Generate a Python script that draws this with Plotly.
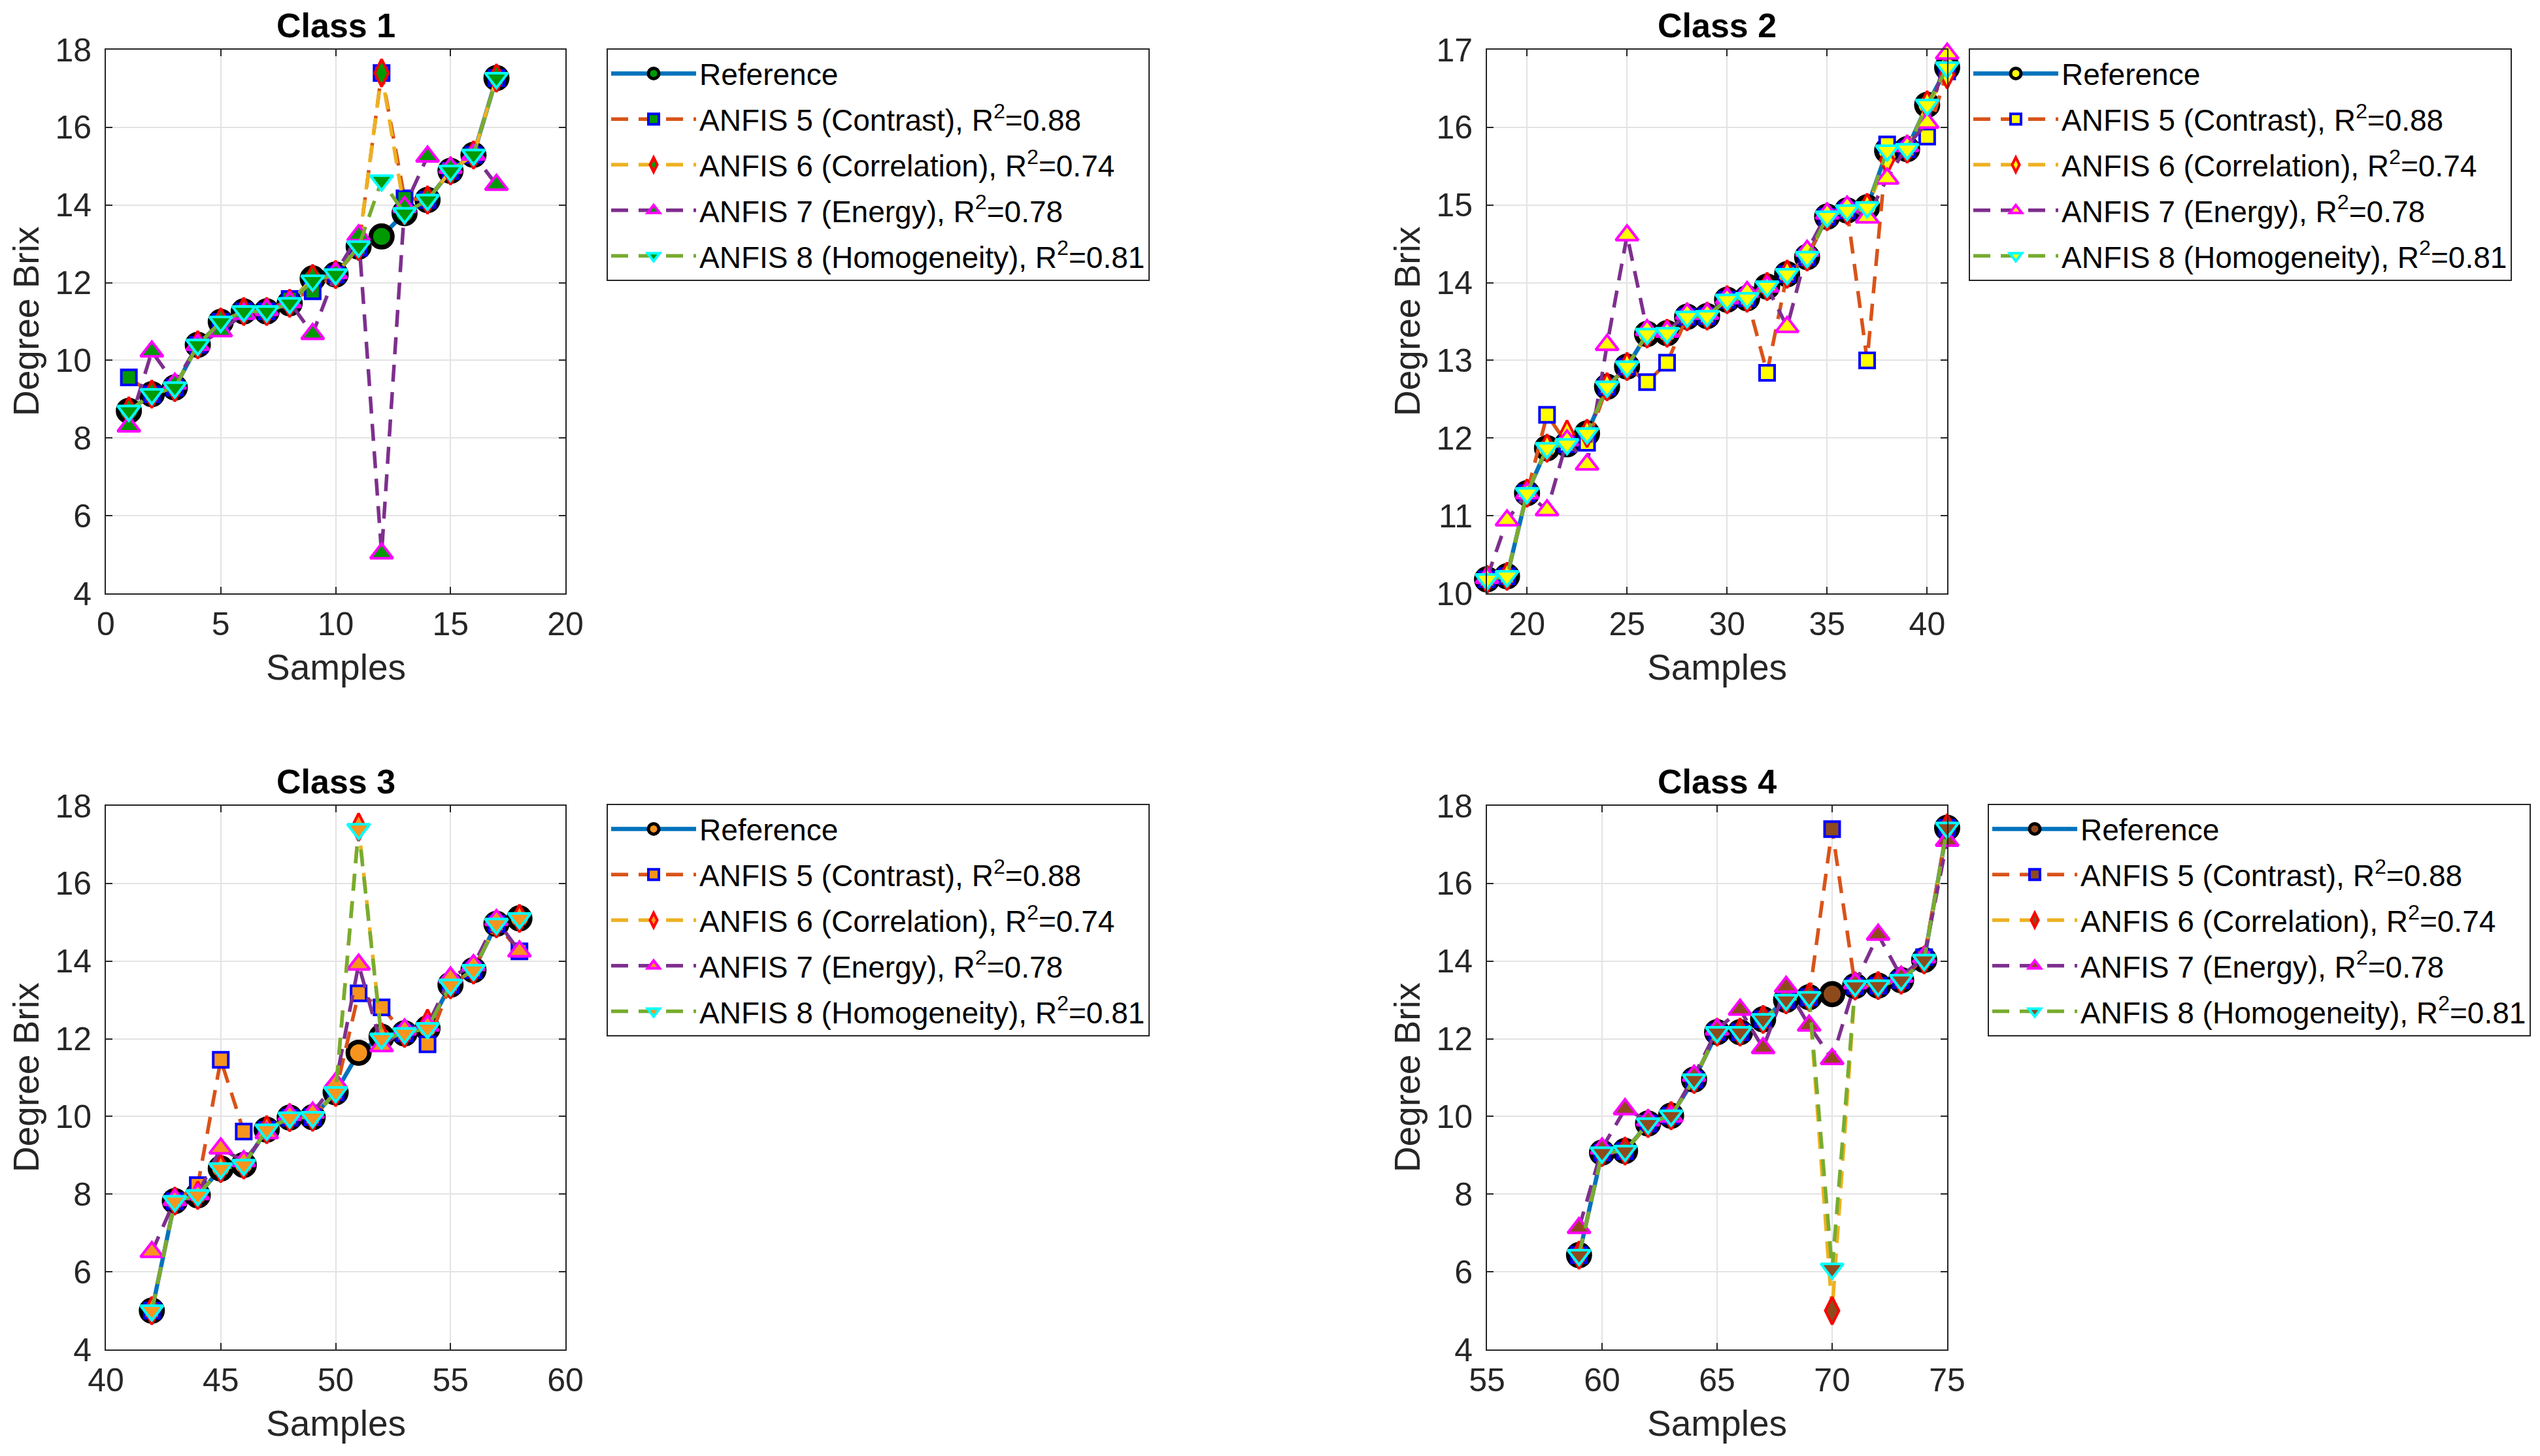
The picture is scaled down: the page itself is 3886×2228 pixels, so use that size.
import plotly.graph_objects as go
from plotly.subplots import make_subplots

W, H = 3886, 2228
FONT = "Liberation Sans, Arial, sans-serif"

# ---- data (Degree Brix per sample) ----
x1 = list(range(1, 18))
ref1 = [8.70, 9.13, 9.30, 10.40, 10.99, 11.26, 11.26, 11.47, 12.11, 12.21, 12.93, 13.19, 13.79, 14.13, 14.88, 15.29, 17.27]
a5_1 = [9.56, 9.13, 9.30, 10.40, 10.99, 11.26, 11.26, 11.58, 11.78, 12.21, 12.90, 17.40, 14.17, 14.13, 14.88, 15.29, 17.27]
a6_1 = [8.70, 9.13, 9.30, 10.40, 10.99, 11.26, 11.26, 11.47, 12.11, 12.21, 12.93, 17.40, 13.85, 14.13, 14.88, 15.29, 17.27]
a7_1 = [8.30, 10.23, 9.40, 10.40, 10.75, 11.20, 11.30, 11.50, 10.68, 12.25, 13.22, 5.03, 13.95, 15.25, 14.96, 15.30, 14.52]
a8_1 = [8.70, 9.13, 9.30, 10.40, 10.99, 11.26, 11.26, 11.47, 12.05, 12.21, 12.93, 14.63, 13.79, 14.13, 14.88, 15.29, 17.27]

x2 = list(range(18, 42))
ref2 = [10.18, 10.22, 11.29, 11.87, 11.92, 12.06, 12.66, 12.92, 13.34, 13.35, 13.56, 13.57,
        13.78, 13.80, 13.95, 14.11, 14.33, 14.85, 14.93, 14.97, 15.70, 15.72, 16.29, 16.77]
a5_2 = [10.18, 10.22, 11.29, 12.30, 11.92, 11.94, 12.66, 12.92, 12.72, 12.97, 13.56, 13.57,
        13.78, 13.80, 12.84, 14.11, 14.33, 14.85, 14.93, 13.00, 15.78, 15.72, 15.88, 16.72]
a6_2 = [10.18, 10.22, 11.29, 11.87, 12.05, 12.06, 12.66, 12.92, 13.34, 13.35, 13.56, 13.57,
        13.78, 13.80, 13.95, 14.11, 14.33, 14.85, 14.93, 14.97, 15.58, 15.72, 16.29, 16.68]
a7_2 = [10.20, 10.94, 11.29, 11.07, 11.97, 11.66, 13.20, 14.61, 13.39, 13.37, 13.60, 13.60,
        13.80, 13.88, 13.95, 13.43, 14.41, 14.89, 14.98, 14.84, 15.34, 15.76, 16.06, 16.95]
a8_2 = [10.18, 10.22, 11.29, 11.87, 11.92, 12.06, 12.66, 12.92, 13.34, 13.35, 13.56, 13.57,
        13.78, 13.80, 13.95, 14.11, 14.33, 14.85, 14.93, 14.97, 15.70, 15.72, 16.29, 16.77]

x3 = list(range(42, 59))
ref3 = [5.00, 7.82, 7.97, 8.66, 8.75, 9.66, 9.97, 9.98, 10.62, 11.64, 12.05, 12.14, 12.27, 13.39, 13.77, 14.96, 15.10]
a5_3 = [5.00, 7.82, 8.23, 11.46, 9.61, 9.66, 9.97, 9.98, 10.62, 13.17, 12.81, 12.14, 11.86, 13.39, 13.77, 14.96, 14.25]
a6_3 = [5.00, 7.82, 7.97, 8.66, 8.75, 9.66, 9.97, 9.98, 10.62, 17.45, 12.05, 12.14, 12.40, 13.39, 13.77, 14.96, 15.10]
a7_3 = [6.51, 7.85, 8.00, 9.18, 8.85, 9.57, 10.04, 10.10, 10.86, 13.91, 11.81, 12.24, 12.34, 13.58, 13.90, 15.06, 14.25]
a8_3 = [5.00, 7.82, 7.97, 8.66, 8.75, 9.66, 9.97, 9.98, 10.62, 17.40, 12.00, 12.14, 12.27, 13.39, 13.77, 14.96, 15.10]

x4 = list(range(59, 76))
ref4 = [6.43, 9.07, 9.11, 9.82, 10.02, 10.95, 12.17, 12.17, 12.50, 13.00, 13.07, 13.15, 13.36, 13.37, 13.51, 14.03, 17.43]
a5_4 = [6.43, 9.07, 9.11, 9.82, 10.02, 10.95, 12.17, 12.17, 12.50, 13.00, 13.07, 17.40, 13.36, 13.37, 13.51, 14.10, 17.43]
a6_4 = [6.43, 9.07, 9.11, 9.82, 10.02, 10.95, 12.17, 12.17, 12.50, 13.00, 13.07, 5.00, 13.36, 13.37, 13.51, 14.03, 17.43]
a7_4 = [7.13, 9.18, 10.19, 9.90, 10.00, 11.05, 12.24, 12.75, 11.76, 13.34, 12.34, 11.48, 13.43, 14.68, 13.60, 14.10, 17.10]
a8_4 = [6.43, 9.07, 9.11, 9.82, 10.02, 10.95, 12.17, 12.17, 12.50, 13.00, 13.07, 6.08, 13.36, 13.37, 13.51, 14.03, 17.43]

names = ["Reference",
         "ANFIS 5 (Contrast), R<sup>2</sup>=0.88",
         "ANFIS 6 (Correlation), R<sup>2</sup>=0.74",
         "ANFIS 7 (Energy), R<sup>2</sup>=0.78",
         "ANFIS 8 (Homogeneity), R<sup>2</sup>=0.81"]

titles = ["Class 1", "Class 2", "Class 3", "Class 4"]
face_colors = ["#009900", "#FFFF00", "#F7941D", "#8F4A1C"]
x_ranges = [[0, 20], [18, 41], [40, 60], [55, 75]]
x_ticks = [[0, 5, 10, 15, 20], [20, 25, 30, 35, 40], [40, 45, 50, 55, 60], [55, 60, 65, 70, 75]]
y_ranges = [[4, 18], [10, 17], [4, 18], [4, 18]]
y_ticks = [list(range(4, 19, 2)), list(range(10, 18)), list(range(4, 19, 2)), list(range(4, 19, 2))]

samples = [x1, x2, x3, x4]
series = [[ref1, a5_1, a6_1, a7_1, a8_1],
          [ref2, a5_2, a6_2, a7_2, a8_2],
          [ref3, a5_3, a6_3, a7_3, a8_3],
          [ref4, a5_4, a6_4, a7_4, a8_4]]

# ---- styling (MATLAB-like) ----
line_colors = ["#0072BD", "#D95319", "#EDB120", "#7E2F8E", "#77AC30"]
edge_colors = ["#000000", "#0000FF", "#FF0000", "#FF00FF", "#00FFFF"]
symbols = ["circle", "square", "diamond-tall", "triangle-up", "triangle-down"]
sizes = [33, 23, 30, 30, 30]
edge_w = [7, 4, 4, 4, 4]

# axis boxes in pixels (left, right, top, bottom)
boxes = [(154, 857, 68, 900), (2267, 2971, 68, 900),
         (154, 857, 1225, 2057), (2267, 2971, 1225, 2057)]
legend_pos = [(920, 66), (3004, 66), (920, 1222), (3033, 1222)]

fig = make_subplots(rows=2, cols=2)

for k in range(4):
    r, c = k // 2 + 1, k % 2 + 1
    leg = "legend" if k == 0 else f"legend{k + 1}"
    for j in range(5):
        fig.add_trace(
            go.Scatter(
                x=samples[k], y=series[k][j], name=names[j], mode="lines+markers",
                line=dict(color=line_colors[j], width=6.5 if j == 0 else 5.5,
                          dash="solid" if j == 0 else "26px,16px"),
                marker=dict(symbol=symbols[j], size=sizes[j], color=face_colors[k],
                            line=dict(color=edge_colors[j], width=edge_w[j])),
                legend=leg, legendgroup=f"g{k}{j}", cliponaxis=False,
            ),
            row=r, col=c,
        )

axis_common = dict(
    showline=True, linecolor="#262626", linewidth=2, mirror="ticks",
    ticks="inside", ticklen=10, tickwidth=2, tickcolor="#262626",
    showgrid=True, gridcolor="#E3E3E3", gridwidth=2, zeroline=False,
    tickfont=dict(family=FONT, size=50, color="#262626"),
)

annotations = []
for k in range(4):
    l, rr, t, b = boxes[k]
    xa = "xaxis" if k == 0 else f"xaxis{k + 1}"
    ya = "yaxis" if k == 0 else f"yaxis{k + 1}"
    fig.layout[xa].update(domain=[l / W, rr / W], range=x_ranges[k], tickvals=x_ticks[k],
                          ticklabelstandoff=2, **axis_common)
    fig.layout[ya].update(domain=[1 - b / H, 1 - t / H], range=y_ranges[k], tickvals=y_ticks[k],
                          ticklabelstandoff=10, **axis_common)
    cx = (l + rr) / 2
    annotations.append(dict(text="<b>" + titles[k] + "</b>", x=cx / W, y=1 - (t - 37) / H,
                            xref="paper", yref="paper", showarrow=False,
                            font=dict(family=FONT, size=52, color="#000000"),
                            xanchor="center", yanchor="middle"))
    annotations.append(dict(text="Samples", x=cx / W, y=1 - (b + 113) / H,
                            xref="paper", yref="paper", showarrow=False,
                            font=dict(family=FONT, size=55, color="#262626"),
                            xanchor="center", yanchor="middle"))
    annotations.append(dict(text="Degree Brix", x=(l - 122) / W, y=1 - (t + b) / 2 / H,
                            xref="paper", yref="paper", showarrow=False, textangle=-90,
                            font=dict(family=FONT, size=55, color="#262626"),
                            xanchor="center", yanchor="middle"))

legend_common = dict(
    xanchor="left", yanchor="top", bgcolor="#FFFFFF", bordercolor="#262626", borderwidth=2,
    font=dict(family=FONT, size=46, color="#000000"), itemwidth=130, tracegroupgap=7,
    traceorder="grouped",
)
for k in range(4):
    lx, ly = legend_pos[k]
    key = "legend" if k == 0 else f"legend{k + 1}"
    fig.layout[key] = dict(x=lx / W, y=1 - ly / H, **legend_common)

fig.update_layout(
    template="none", width=W, height=H, margin=dict(l=0, r=0, t=0, b=0),
    paper_bgcolor="#FFFFFF", plot_bgcolor="#FFFFFF", showlegend=True,
    annotations=annotations, font=dict(family=FONT),
)

fig.write_html("out.html")
